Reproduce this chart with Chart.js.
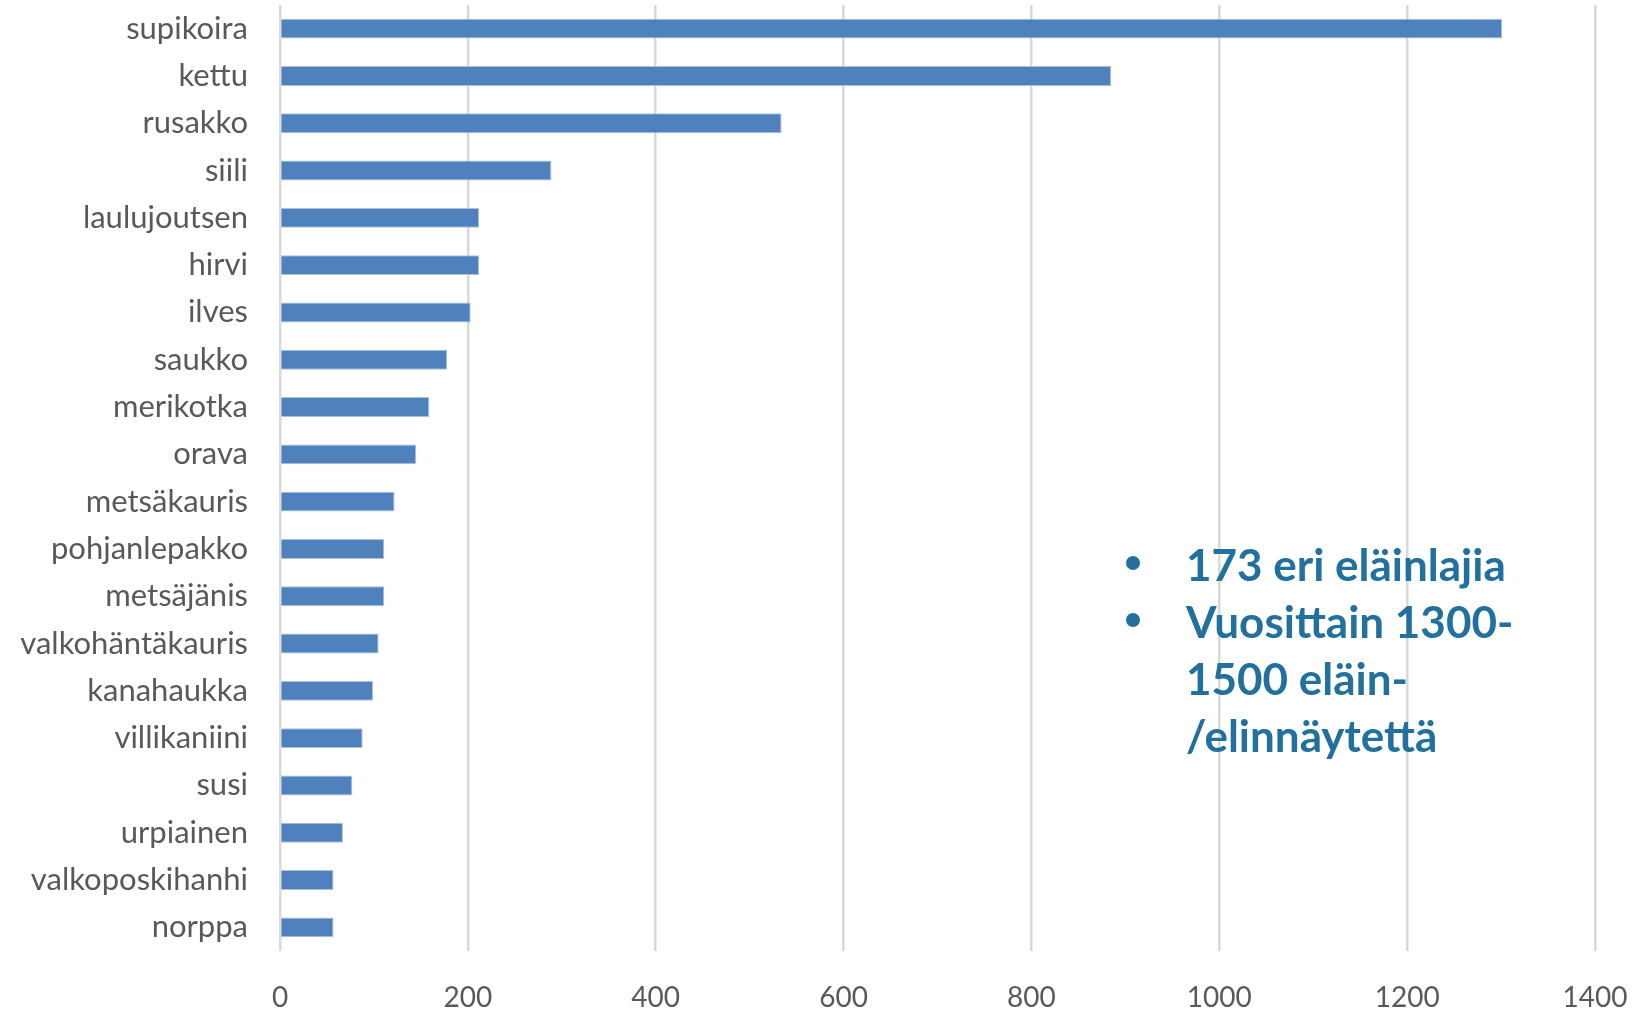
<!DOCTYPE html>
<html>
<head>
<meta charset="utf-8">
<script src="https://cdn.jsdelivr.net/npm/chart.js@4"></script>
<style>
  html, body { margin: 0; padding: 0; background: #fff; }
  #wrap { position: relative; width: 1637px; height: 1009px; }
  #info {
    position: absolute; left: 1112px; top: 536px;
    font-family: Lato, "Open Sans", sans-serif; font-weight: bold;
    font-size: 44px; line-height: 57px; color: #21709e;
  }
  #info .rivi { position: relative; padding-left: 74px; white-space: nowrap; }
  #info .rivi.bullet::before {
    content: ''; position: absolute; left: 14px; top: 20px;
    width: 14px; height: 14px; border-radius: 50%; background: #21709e;
  }
</style>
</head>
<body>
<div id="wrap">
  <canvas id="kuvio" width="1637" height="1009"></canvas>
  <div id="info">
    <div class="rivi bullet">173 eri eläinlajia</div>
    <div class="rivi bullet">Vuosittain 1300-</div>
    <div class="rivi">1500 eläin-</div>
    <div class="rivi">/elinnäytettä</div>
  </div>
</div>
<script>
// Eläinlajit ja näytemäärät
const lajit = ['supikoira', 'kettu', 'rusakko', 'siili', 'laulujoutsen', 'hirvi', 'ilves', 'saukko',
  'merikotka', 'orava', 'metsäkauris', 'pohjanlepakko', 'metsäjänis', 'valkohäntäkauris',
  'kanahaukka', 'villikaniini', 'susi', 'urpiainen', 'valkoposkihanhi', 'norppa'];
const maarat = [1301, 885, 534, 289, 212, 212, 203, 178, 159, 145, 122, 111, 111, 105, 99, 88, 77, 67, 57, 57];
const xTikit = [0, 200, 400, 600, 800, 1000, 1200, 1400];

const fontti = 'Lato, "Open Sans", sans-serif';
const harmaa = '#595959';

new Chart(document.getElementById('kuvio'), {
  type: 'bar',
  data: {
    labels: lajit,
    datasets: [{
      data: maarat,
      backgroundColor: '#4f81bd',
      borderColor: '#a9c0de',
      borderWidth: 1,
      barPercentage: 0.42,
      categoryPercentage: 1
    }]
  },
  options: {
    indexAxis: 'y',
    responsive: false,
    animation: false,
    layout: { padding: { top: 5, right: 42, bottom: 0, left: 0 } },
    plugins: { legend: { display: false }, tooltip: { enabled: false } },
    scales: {
      x: {
        min: 0, max: 1400,
        afterBuildTicks: ax => { ax.ticks = xTikit.map(v => ({ value: v })); },
        afterFit: ax => { ax.height = 58; ax.paddingLeft = 0; ax.paddingRight = 0; },
        grid: { color: '#d9d9d9', lineWidth: 2.5, drawTicks: false },
        border: { display: false },
        ticks: { color: harmaa, font: { family: fontti, size: 28 }, padding: 30, callback: v => String(v) }
      },
      y: {
        afterFit: ax => { ax.width = 280; ax.paddingTop = 0; ax.paddingBottom = 0; },
        grid: { display: false },
        border: { display: false },
        ticks: { color: harmaa, font: { family: fontti, size: 31 }, padding: 24, autoSkip: false }
      }
    }
  }
});
</script>
</body>
</html>
